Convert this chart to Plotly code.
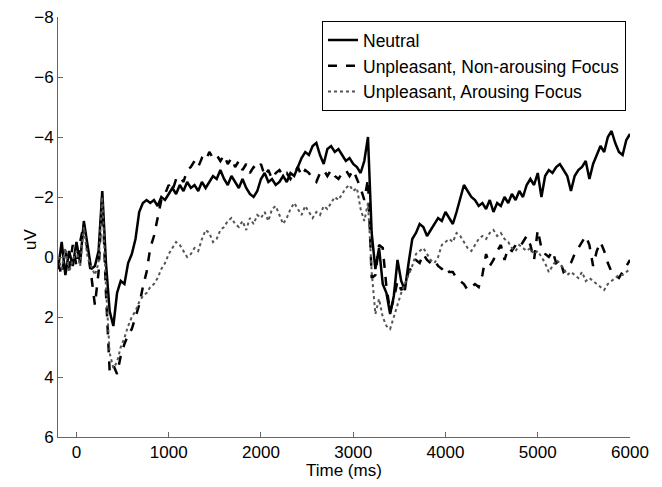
import plotly.graph_objects as go

# Sample times (ms), 40 ms grid from -200 to 6000
times = list(range(-200, 6001, 40))

neutral = [
    0.4, -0.5, 0.6, -0.2, 0.3, -0.5, 0.2, -1.2, -0.4, 0.4,
    0.3, -0.2, -2.2, 0.2, 1.8, 2.3, 1.2, 0.8, 0.9, 0.2,
    -0.1, -0.6, -1.5, -1.8, -1.9, -1.8, -1.9, -1.7, -2.0, -1.9,
    -2.1, -2.3, -2.1, -2.4, -2.2, -2.5, -2.3, -2.4, -2.2, -2.5,
    -2.3, -2.5, -2.7, -2.6, -2.9, -2.6, -2.4, -2.7, -2.5, -2.3,
    -2.6, -2.3, -2.1, -2.0, -2.2, -2.6, -2.8, -2.5, -2.6, -2.4,
    -2.5, -2.7, -2.5, -2.8, -2.7, -3.0, -3.3, -3.5, -3.4, -3.7,
    -3.8, -3.4, -3.1, -3.6, -3.7, -3.5, -3.6, -3.4, -3.2, -3.3,
    -3.1, -3.0, -2.8, -3.2, -4.0, -0.8, 0.4, -0.3, 0.9, 1.2,
    1.9, 1.3, 0.1, 0.8, 1.1, 0.2, -0.6, -0.8, -1.1, -1.0,
    -0.7, -0.9, -1.1, -1.3, -1.2, -1.5, -1.3, -1.1, -1.5, -2.0,
    -2.4, -2.2, -2.0, -1.9, -1.7, -1.8, -1.6, -1.9, -1.5, -1.8,
    -1.7, -2.0, -1.8, -2.1, -1.9, -2.2, -2.0, -2.4, -2.6, -2.4,
    -2.8, -2.0, -2.7, -2.9, -2.8, -3.0, -3.1, -2.9, -2.7, -2.2,
    -2.7, -2.9, -3.0, -3.2, -2.6, -3.1, -3.4, -3.7, -3.5, -4.0,
    -4.2, -3.8, -3.5, -3.4, -3.9, -4.1,
]

non_arousing = [
    0.2, 0.6, -0.2, 0.4, -0.4, 0.3, -0.5, -1.1, -0.2, 0.6,
    1.6, 0.5, -2.1, 1.2, 3.8, 3.6, 3.9, 3.3, 2.9, 2.6,
    2.4, 2.0, 1.6, 1.0, 0.5, -0.3, -0.7, -1.3, -1.9, -2.1,
    -2.4, -2.2, -2.6, -2.7, -2.5, -2.9, -3.0, -3.2, -3.0, -3.3,
    -3.2, -3.5, -3.3, -3.4, -3.2, -3.4, -3.1, -3.3, -3.0, -3.2,
    -2.9, -3.1, -2.8, -3.0, -2.9, -3.1, -2.7, -2.9, -2.6, -2.8,
    -2.9, -2.7, -2.8, -2.6, -2.8, -3.0, -2.7, -2.9, -2.8, -2.6,
    -2.5, -2.8, -2.9, -2.7, -2.9, -2.7, -2.6, -2.8, -2.9, -2.7,
    -2.9, -2.6, -2.3, -1.9, -2.6, 0.7, 0.6, -0.4, -0.3, 1.0,
    1.8, 1.4, 0.8, 1.1, 0.9, 0.5, 0.3, 0.1, 0.2, -0.1,
    0.1, 0.2, 0.1, 0.3, 0.4, 0.3, 0.5, 0.5, 0.7, 0.8,
    0.9, 1.1, 1.0, 0.9, 1.0, 0.6, -0.1, 0.3, 0.1, -0.2,
    -0.4, 0.1, -0.3, -0.2, -0.4, -0.3, -0.5, -0.7, -0.4, 0.1,
    -0.9, -0.3, -0.1, 0.0, -0.2, 0.2, 0.1, 0.5, 0.4, 0.2,
    -0.1, -0.3, -0.5, -0.7, -0.4, 0.3, -0.2, -0.5, -0.2, 0.2,
    0.5, 0.6, 0.7, 0.5, 0.3, 0.1,
]

arousing = [
    0.0, 0.4, -0.3, 0.5, 0.1, -0.2, 0.3, -1.0, 0.0, 0.3,
    0.6, 0.2, -2.0, 1.0, 3.2, 3.7, 3.5, 3.0, 2.7, 2.3,
    2.0, 1.8, 1.5, 1.3, 1.2, 1.0, 0.9, 0.7, 0.4, 0.2,
    -0.1, -0.3, -0.5, -0.4, -0.2, 0.0, -0.1, -0.3, -0.2, -0.6,
    -0.9, -0.8, -0.5, -0.6, -0.9, -1.0, -1.2, -1.3, -1.1, -1.0,
    -1.2, -0.9, -1.3, -1.1, -1.4, -1.3, -1.5, -1.2, -1.6, -1.7,
    -1.4, -1.1, -1.3, -1.6, -1.8, -1.6, -1.4, -1.7, -1.5, -1.3,
    -1.5, -1.4, -1.7, -1.6, -1.8, -2.0, -1.9, -2.1, -2.3, -2.4,
    -2.2, -2.3, -1.6, -1.2, -1.8, 0.5, 1.9, 1.4, 2.0, 2.3,
    2.4, 2.0, 1.6, 1.2, 0.9, 0.6, 0.3, -0.1, -0.2, -0.3,
    -0.1, 0.1, 0.2, 0.0, -0.4, -0.5, -0.6, -0.5, -0.8, -0.7,
    -0.5, -0.3, -0.2, -0.4, -0.6, -0.7, -0.6, -0.8, -0.9, -0.7,
    -0.8, -0.6, -0.5, -0.3, -0.2, -0.4, -0.3, -0.2, -0.3, -0.1,
    -0.2, 0.0, 0.2, 0.5, 0.3, 0.1, 0.2, 0.4, 0.6, 0.5,
    0.6, 0.7, 0.5, 0.8, 0.7, 0.8, 0.9, 1.0, 1.1, 0.9,
    0.8, 0.7, 0.6, 0.6, 0.5, 0.4,
]

x_ticks = [0, 1000, 2000, 3000, 4000, 5000, 6000]
y_ticks = [-8, -6, -4, -2, 0, 2, 4, 6]
y_tick_labels = ["\u22128", "\u22126", "\u22124", "\u22122", "0", "2", "4", "6"]

FONT = "Liberation Sans, Arial, sans-serif"

fig = go.Figure()
fig.add_trace(go.Scatter(x=times, y=neutral, mode="lines", name="Neutral",
                         line=dict(color="black", width=2.5, dash="solid")))
fig.add_trace(go.Scatter(x=times, y=non_arousing, mode="lines",
                         name="Unpleasant, Non-arousing Focus",
                         line=dict(color="black", width=2.5, dash="dash")))
fig.add_trace(go.Scatter(x=times, y=arousing, mode="lines",
                         name="Unpleasant, Arousing Focus",
                         line=dict(color="#555555", width=2, dash="dot")))

fig.update_layout(
    width=662, height=487,
    margin=dict(l=50, r=40, t=9, b=58),
    paper_bgcolor="white", plot_bgcolor="white",
    font=dict(family=FONT, size=17, color="black"),
    showlegend=True,
    legend=dict(x=0.993, y=0.99, xanchor="right", yanchor="top",
                bgcolor="white", bordercolor="black", borderwidth=1,
                font=dict(size=17.5), tracegroupgap=0, itemwidth=30),
    xaxis=dict(range=[-200, 6000], tickvals=x_ticks, ticks="inside", ticklen=5,
               tickcolor="#666666", showline=True, linecolor="#666666", linewidth=1,
               showgrid=False, zeroline=False, automargin=False,
               ticklabeloverflow="allow", tickfont=dict(size=17)),
    yaxis=dict(range=[6, -8], tickvals=y_ticks, ticktext=y_tick_labels,
               ticks="inside", ticklen=5,
               tickcolor="#666666", showline=True, linecolor="#666666", linewidth=1,
               showgrid=False, zeroline=False, automargin=False,
               ticklabeloverflow="allow", tickfont=dict(size=17)),
    annotations=[
        dict(text="Time (ms)", xref="paper", yref="paper", x=0.5, y=0,
             xanchor="center", yanchor="top", yshift=-22, showarrow=False,
             font=dict(size=17)),
        dict(text="uV", xref="paper", yref="paper", x=0, y=0.469,
             xanchor="center", yanchor="middle", xshift=-28, textangle=-90,
             showarrow=False, font=dict(size=17)),
    ],
)

fig.write_html("out.html")
